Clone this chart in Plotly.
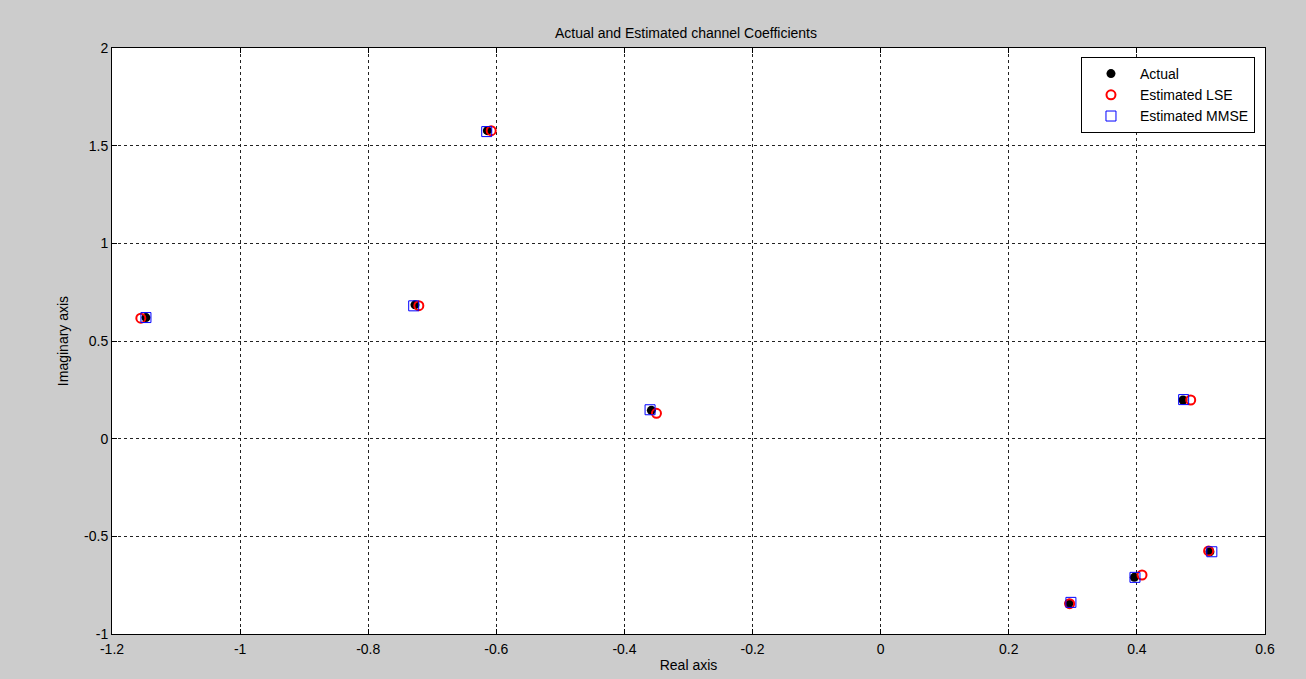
import plotly.graph_objects as go

# Channel coefficients: real and imaginary parts
actual_re = [-1.147, -0.614, -0.727, -0.358, 0.472, 0.294, 0.396, 0.514]
actual_im = [0.620, 1.577, 0.685, 0.145, 0.198, -0.843, -0.710, -0.579]

lse_re = [-1.155, -0.608, -0.721, -0.350, 0.484, 0.295, 0.408, 0.512]
lse_im = [0.617, 1.577, 0.681, 0.130, 0.198, -0.845, -0.698, -0.575]

mmse_re = [-1.147, -0.615, -0.729, -0.360, 0.473, 0.297, 0.397, 0.517]
mmse_im = [0.620, 1.572, 0.680, 0.148, 0.200, -0.838, -0.710, -0.579]

x_ticks = [-1.2, -1.0, -0.8, -0.6, -0.4, -0.2, 0.0, 0.2, 0.4, 0.6]
x_tick_text = ["-1.2", "-1", "-0.8", "-0.6", "-0.4", "-0.2", "0", "0.2", "0.4", "0.6"]
y_ticks = [-1.0, -0.5, 0.0, 0.5, 1.0, 1.5, 2.0]
y_tick_text = ["-1", "-0.5", "0", "0.5", "1", "1.5", "2"]

FONT = "Liberation Sans, Arial, sans-serif"
FS = 14

fig = go.Figure()
fig.add_trace(go.Scatter(
    x=actual_re, y=actual_im, mode="markers", name="Actual",
    marker=dict(symbol="circle", size=9, color="black"),
))
fig.add_trace(go.Scatter(
    x=lse_re, y=lse_im, mode="markers", name="Estimated LSE",
    marker=dict(symbol="circle-open", size=9, color="red", line=dict(width=2, color="red")),
))
fig.add_trace(go.Scatter(
    x=mmse_re, y=mmse_im, mode="markers", name="Estimated MMSE",
    marker=dict(symbol="square-open", size=10, color="blue", line=dict(width=1, color="blue")),
))

axis_common = dict(
    showline=True, linecolor="black", linewidth=1, mirror="allticks",
    ticks="inside", ticklen=5, tickcolor="black",
    showgrid=True, gridcolor="#222222", gridwidth=1, griddash="3px,3px",
    zeroline=False, automargin=False,
    tickfont=dict(family=FONT, size=FS, color="black"),
)

fig.update_xaxes(
    range=[-1.2, 0.6], tickvals=x_ticks, ticktext=x_tick_text,
    ticklabelstandoff=2,
    title=dict(text="Real axis", font=dict(family=FONT, size=FS, color="black"), standoff=4),
    **axis_common,
)
fig.update_yaxes(
    range=[-1, 2], tickvals=y_ticks, ticktext=y_tick_text,
    title=dict(text="Imaginary axis", font=dict(family=FONT, size=FS, color="black"), standoff=12),
    **axis_common,
)

fig.update_layout(
    width=1306, height=679,
    paper_bgcolor="#cccccc", plot_bgcolor="white",
    margin=dict(l=112, r=41, t=48, b=45),
    title=dict(
        text="Actual and Estimated channel Coefficients",
        font=dict(family=FONT, size=FS, color="black"),
        x=686 / 1306, xanchor="center", xref="container",
        y=1 - 33 / 679, yanchor="middle", yref="container",
    ),
    legend=dict(
        x=0.8404, y=0.9846, xanchor="left", yanchor="top",
        bgcolor="white", bordercolor="black", borderwidth=1,
        font=dict(family=FONT, size=FS, color="black"),
        itemwidth=48, tracegroupgap=0,
    ),
    showlegend=True,
)

fig.write_html("out.html")
